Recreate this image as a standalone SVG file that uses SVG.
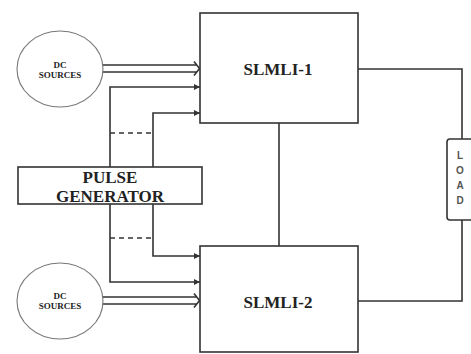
<svg xmlns="http://www.w3.org/2000/svg" width="471" height="354" viewBox="0 0 471 354">
<style>
.box{fill:#fff;stroke:#333;stroke-width:1.6}
.src{fill:#fff;stroke:#777;stroke-width:1.1}
.ln{fill:none;stroke:#333;stroke-width:1.6}
.dash{fill:none;stroke:#333;stroke-width:1.6;stroke-dasharray:5 4}
.t{font-family:'Liberation Serif','DejaVu Serif',serif;font-weight:bold;fill:#222;text-anchor:middle}
.s{font-family:'Liberation Sans','DejaVu Sans',sans-serif;font-weight:bold;fill:#555;text-anchor:middle}
</style>
<defs>
<marker id="ah" viewBox="0 0 6 6" refX="6" refY="3" markerWidth="6" markerHeight="6" markerUnits="userSpaceOnUse" orient="auto">
<path d="M0,0 L6,3 L0,6 Z" fill="#333"/>
</marker>
</defs>
<g id="connectors">
<path class="ln" d="M103,65 H197 M103,72 H197 M194,61.5 L199.5,68.5 L194,75.5"/>
<path class="ln" d="M103,297 H197 M103,304 H197 M194,293.5 L199.5,300.5 L194,307.5"/>
<path class="ln" d="M110,167 V87 H200" marker-end="url(#ah)"/>
<path class="ln" d="M153,167 V113 H200" marker-end="url(#ah)"/>
<path class="dash" d="M110,133 H153"/>
<path class="ln" d="M110,204 V282 H200" marker-end="url(#ah)"/>
<path class="ln" d="M153,204 V256 H200" marker-end="url(#ah)"/>
<path class="dash" d="M110,238 H153"/>
<path class="ln" d="M279,123 V246"/>
<path class="ln" d="M358,69 H462 V139"/>
<path class="ln" d="M358,301 H462 V220"/>
</g>
<g id="dc1">
<ellipse class="src" cx="60" cy="69" rx="43" ry="38"/>
<text class="t" x="60" y="68" font-size="9">DC</text>
<text class="t" x="60" y="78" font-size="9">SOURCES</text>
</g>
<g id="dc2">
<ellipse class="src" cx="60" cy="301" rx="43" ry="38"/>
<text class="t" x="60" y="299" font-size="9">DC</text>
<text class="t" x="60" y="309" font-size="9">SOURCES</text>
</g>
<g id="slmli1">
<rect class="box" x="200" y="13" width="158" height="110"/>
<text class="t" x="278" y="75" font-size="17">SLMLI-1</text>
</g>
<g id="slmli2">
<rect class="box" x="200" y="246" width="158" height="106"/>
<text class="t" x="278" y="308" font-size="17">SLMLI-2</text>
</g>
<g id="pulse">
<rect class="box" x="18" y="167" width="184" height="37"/>
<text class="t" x="110" y="183" font-size="17">PULSE</text>
<text class="t" x="110" y="202" font-size="17">GENERATOR</text>
</g>
<g id="load">
<rect class="box" x="447" y="139" width="40" height="81" rx="3"/>
<text class="s" x="460" y="159" font-size="10">L</text>
<text class="s" x="460" y="174" font-size="10">O</text>
<text class="s" x="460" y="189" font-size="10">A</text>
<text class="s" x="460" y="204" font-size="10">D</text>
</g>
</svg>
